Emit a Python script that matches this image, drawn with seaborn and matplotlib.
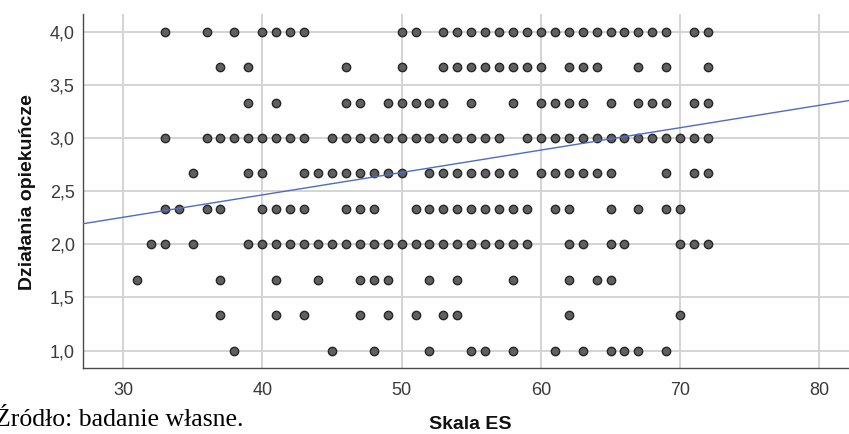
"""
plot.py
Działania opiekuńcze vs Skala ES - wykres rozrzutu z linią dopasowania
"""

import numpy as np
import pandas as pd
import matplotlib
matplotlib.use("Agg")
import matplotlib.pyplot as plt
import seaborn as sns

# ============== DANE ==============
# wartości Skali ES dla każdego poziomu "Działania opiekuńcze"
Y_LEVELS = [4.0, 11 / 3, 10 / 3, 3.0, 8 / 3, 7 / 3, 2.0, 5 / 3, 4 / 3, 1.0]

X_400 = [33, 36, 38, 40, 41, 42, 43, 50, 51, 53, 54, 55, 56, 57, 58, 59, 60,
         61, 62, 63, 64, 65, 66, 67, 68, 69, 71, 72]
X_367 = [37, 39, 46, 50, 53, 54, 55, 56, 57, 58, 59, 60, 62, 63, 64, 67, 69, 72]
X_333 = [39, 41, 46, 47, 49, 50, 51, 52, 53, 55, 58, 60, 61, 62, 63, 65, 67,
         68, 69, 71, 72]
X_300 = [33, 36, 37, 38, 39, 40, 41, 42, 43, 45, 46, 47, 48, 49, 50, 51, 52,
         53, 54, 55, 56, 57, 59, 60, 61, 62, 63, 64, 65, 66, 67, 68, 69, 70,
         71, 72]
X_267 = [35, 39, 40, 43, 44, 45, 46, 47, 48, 49, 50, 52, 53, 54, 55, 56, 57,
         58, 60, 61, 62, 63, 64, 65, 69, 71, 72]
X_233 = [33, 34, 36, 37, 40, 41, 42, 43, 46, 47, 48, 51, 52, 53, 54, 55, 56,
         57, 58, 59, 61, 62, 65, 67, 69, 70]
X_200 = [32, 33, 35, 39, 40, 41, 42, 43, 44, 45, 46, 47, 48, 49, 50, 51, 52,
         53, 54, 55, 56, 57, 58, 59, 62, 63, 65, 66, 70, 71, 72]
X_167 = [31, 37, 41, 44, 47, 48, 49, 52, 54, 58, 62, 64, 65]
X_133 = [37, 41, 43, 47, 49, 51, 53, 54, 62, 70]
X_100 = [38, 45, 48, 52, 55, 56, 58, 61, 63, 65, 66, 67, 69]

X_ROWS = [X_400, X_367, X_333, X_300, X_267, X_233, X_200, X_167, X_133, X_100]

# linia dopasowania
FIT_INTERCEPT = 1.622
FIT_SLOPE = 0.02107

X_TICKS = [30, 40, 50, 60, 70, 80]
Y_TICKS = [1.0, 1.5, 2.0, 2.5, 3.0, 3.5, 4.0]
# ==================================

rows = []
for y, xs in zip(Y_LEVELS, X_ROWS):
    for x in xs:
        rows.append({"Skala ES": x, "Działania opiekuńcze": y})
df = pd.DataFrame(rows)

sns.set_style("white")
plt.rcParams["font.family"] = ["Liberation Sans", "DejaVu Sans"]

fig = plt.figure(figsize=(8.49, 4.34), dpi=100)
ax = fig.add_axes([83 / 849, 1 - 368 / 434, 1 - 83 / 849, 354 / 434])

sns.scatterplot(
    data=df, x="Skala ES", y="Działania opiekuńcze", ax=ax,
    s=36, color="#606060", edgecolor="#262626", linewidth=1.0, zorder=3,
)
ax.axline((0, FIT_INTERCEPT), slope=FIT_SLOPE, color="#4f6bc5", lw=1.0, zorder=4)

ax.set_xlim(27.13, 82.12)
ax.set_ylim(0.837, 4.166)
ax.set_xticks(X_TICKS)
ax.set_yticks(Y_TICKS)
ax.set_yticklabels([f"{v:.1f}".replace(".", ",") for v in Y_TICKS])

ax.grid(True, color="#d4d4d4", lw=1.4, zorder=0)
ax.set_axisbelow(True)
for side in ["top", "right"]:
    ax.spines[side].set_visible(False)
for side in ["left", "bottom"]:
    ax.spines[side].set_color("#4a4a4a")
    ax.spines[side].set_linewidth(1.0)

ax.tick_params(axis="both", length=0, labelsize=13, labelcolor="#3a3a3a")
ax.tick_params(axis="x", pad=10)
ax.tick_params(axis="y", pad=6)

ax.set_xlabel("Skala ES", fontsize=14, fontweight="bold", color="#111111",
              va="center")
ax.set_ylabel("Działania opiekuńcze", fontsize=14, fontweight="bold", color="#111111",
              va="center")
ax.xaxis.set_label_coords(0.505, -0.161)
ax.yaxis.set_label_coords(-0.0725, 0.496)

fig.text(-5 / 849, 1 - 426 / 434, "Źródło: badanie własne.",
         family=["Liberation Serif", "DejaVu Serif"], fontsize=18.5,
         ha="left", va="baseline", color="black")

fig.savefig("out.png", dpi=100)
plt.close(fig)
